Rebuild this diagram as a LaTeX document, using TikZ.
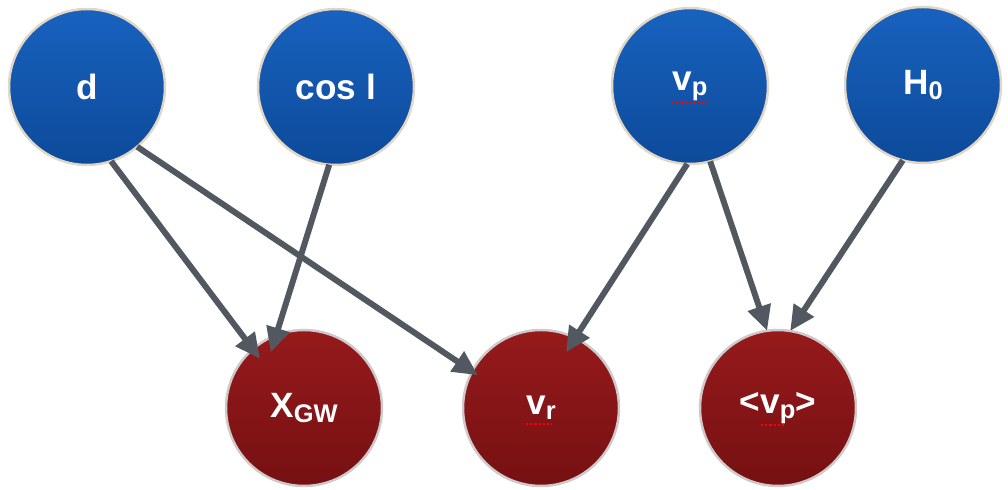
\documentclass[tikz,border=0pt]{standalone}
\usepackage{fontspec}
\setmainfont{Liberation Sans}
\usetikzlibrary{arrows.meta}
\definecolor{bluetop}{RGB}{24,98,190}
\definecolor{bluebot}{RGB}{13,74,154}
\definecolor{redtop}{RGB}{150,26,28}
\definecolor{redbot}{RGB}{118,16,18}
\definecolor{arrowgray}{RGB}{82,88,96}
\definecolor{halob}{RGB}{226,214,198}
\definecolor{halor}{RGB}{206,202,202}
\newcommand\sbs[1]{\raisebox{-0.14em}{\fontsize{14.5}{14.5}\selectfont #1}}
\begin{document}
\begin{tikzpicture}[x=0.02cm,y=0.02cm,
  var/.style={circle,minimum size=3.12cm,inner sep=0pt,outer sep=0pt,
    text=white,font=\fontsize{20}{24}\selectfont\bfseries,line width=1.4pt},
  inp/.style={var,top color=bluetop,bottom color=bluebot,draw=halob},
  outp/.style={var,top color=redtop,bottom color=redbot,draw=halor},
  link/.style={draw=arrowgray,line width=3.4pt,
    -{Triangle[length=0.5cm,width=0.46cm]}},
  spell/.style={draw=red,line width=0.9pt,dash pattern=on 1.2pt off 1.2pt}
]
\useasboundingbox (0,0) rectangle (1008,490);
% top row (y up: 490 - y_image)
\node[inp] (d)   at (87,403)  {d};
\node[inp] (cosi) at (336,403) {cos l};
\node[inp] (vp)  at (690,404) {v\sbs{p}};
\node[inp] (h0)  at (923,405) {H\sbs{0}};
% bottom row
\node[outp] (xgw) at (304,82) {X\sbs{GW}};
\node[outp] (vr)  at (541,82) {v\sbs{r}};
\node[outp] (mvp) at (778,82) {<v\sbs{p}>};
% spell-check marks
\draw[spell] ([shift={(-18,-17)}]vp.center) -- ([shift={(18,-17)}]vp.center);
\draw[spell] ([shift={(-15,-16)}]vr.center) -- ([shift={(11,-16)}]vr.center);
\draw[spell] ([shift={(-17,-17)}]mvp.center) -- ([shift={(6,-17)}]mvp.center);
% connectors
\draw[link,shorten >=-0.24cm] (d.-72) -- (xgw.131);
\draw[link,shorten >=-0.14cm] (d.-50) -- (vr.152);
\draw[link,shorten >=-0.36cm] (cosi.-95) -- (xgw.111);
\draw[link,shorten >=-0.34cm] (vp.-92) -- (vr.64);
\draw[link] (vp.-75) -- (mvp.98);
\draw[link] (h0.-105) -- (mvp.81);
\end{tikzpicture}
\end{document}
